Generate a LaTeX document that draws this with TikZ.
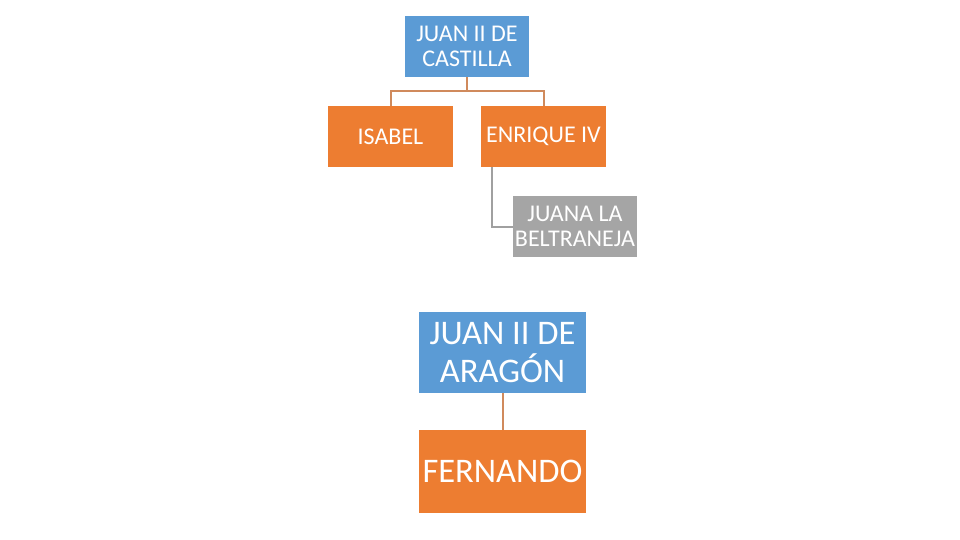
\documentclass[tikz,border=0pt]{standalone}
\usepackage{fontspec}
\setmainfont{Carlito}
\definecolor{bleu}{HTML}{5B9BD5}
\definecolor{orange}{HTML}{ED7D31}
\definecolor{gris}{HTML}{A5A5A5}
\definecolor{lienorange}{HTML}{D08A5C}
\definecolor{liengris}{HTML}{A0A0A0}
\begin{document}
\begin{tikzpicture}[x=1pt,y=-1pt]
		\tikzset{boite/.style={rectangle, text=white, align=center, inner sep=0pt, font=\fontsize{24}{25}\selectfont},
		grande/.style={boite, font=\fontsize{34.5}{38}\selectfont},
		lien/.style={draw=lienorange, line width=2pt},
		liengr/.style={draw=liengris, line width=2pt}}
		\useasboundingbox (0,0) rectangle (960,540);
		\node[boite, fill=bleu, minimum width=124pt, minimum height=61pt] (C) at (467,46.5) {JUAN II DE\\CASTILLA};
		\node[boite, fill=orange, minimum width=125pt, minimum height=61pt] (I) at (390.5,136.5) {ISABEL};
		\node[boite, fill=orange, minimum width=125pt, minimum height=61pt] (E) at (543.5,136.5) {ENRIQUE IV};
		\node[boite, fill=gris, minimum width=124pt, minimum height=61pt] (B) at (575,226.5) {JUANA LA\\BELTRANEJA};
		\node[grande, fill=bleu, minimum width=167pt, minimum height=81pt] (A) at (502.5,352.5) {JUAN II DE\\ARAGÓN};
		\node[grande, fill=orange, minimum width=167pt, minimum height=83pt] (F) at (502.5,471.5) {FERNANDO};

		\coordinate (K) at ([yshift=-14pt]C.south);
		\coordinate (L) at ([xshift=11pt]E.south west);

    \draw[lien] (C) -- (K);
    \draw[lien] (K) -| (I);
    \draw[lien] (K) -| (E);
    \draw[liengr] (L) |- (B);
    \draw[lien] (A) -- (F);

		\end{tikzpicture}
\end{document}
